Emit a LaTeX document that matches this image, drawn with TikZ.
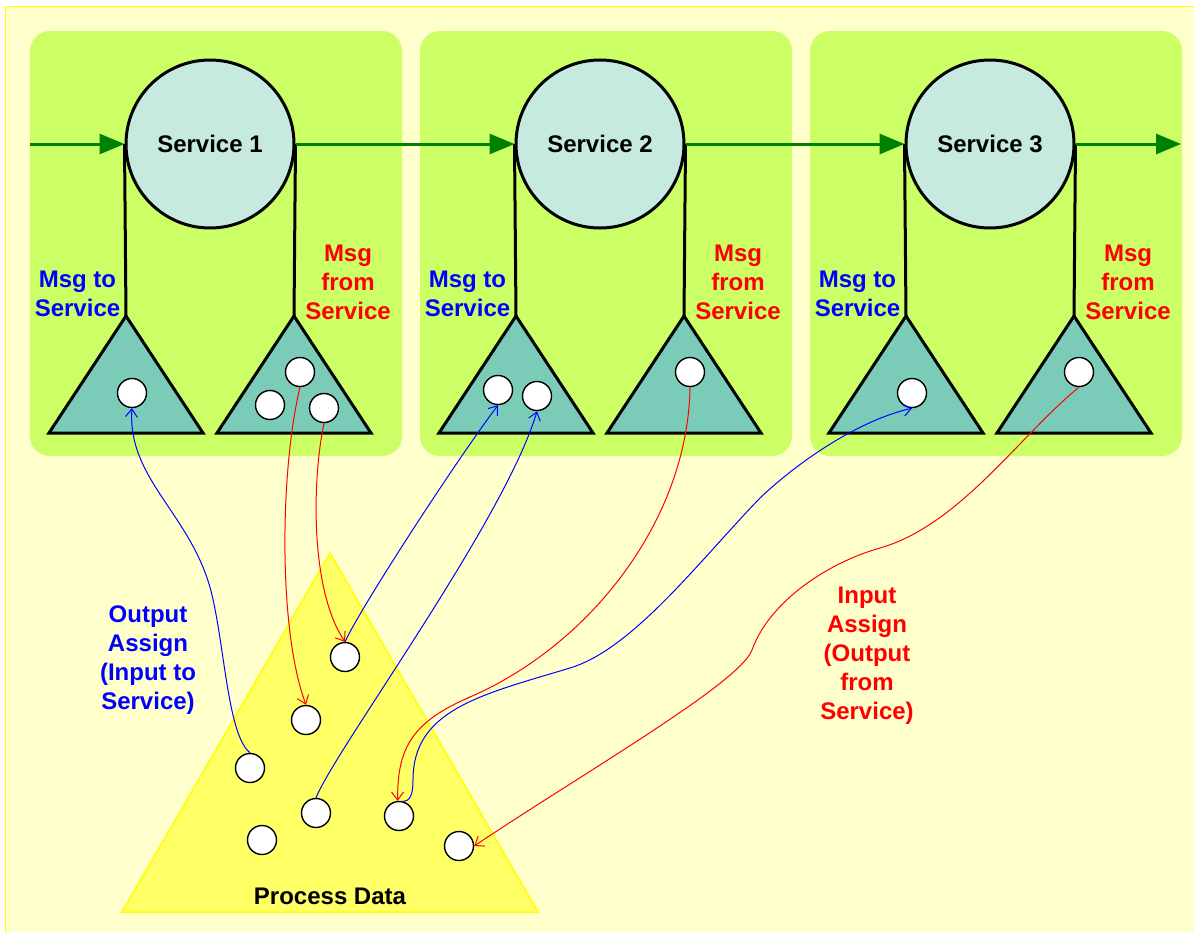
\documentclass[tikz,border=0pt]{standalone}
\usepackage{fontspec}
\setmainfont{Liberation Sans}
\usetikzlibrary{arrows.meta}
\definecolor{bgy}{HTML}{FFFFCC}
\definecolor{bord}{HTML}{FFFF00}
\definecolor{boxg}{HTML}{CCFF66}
\definecolor{svc}{HTML}{C6EAE0}
\definecolor{tri}{HTML}{7ACCB8}
\definecolor{pdy}{HTML}{FFFF66}
\definecolor{flow}{HTML}{008000}
\begin{document}
\begin{tikzpicture}[x=0.5pt,y=-0.5pt,
  svcnode/.style={circle, draw=black, line width=1.5pt, fill=svc, minimum size=84pt, inner sep=0pt, font=\bfseries\fontsize{12}{14.5}\selectfont},
  dot/.style={circle, draw=black, line width=0.7pt, fill=white, minimum size=14.5pt, inner sep=0pt},
  grp/.style={fill=boxg, rounded corners=10pt},
  msgtri/.style={draw=black, line width=1.5pt, fill=tri, line join=miter},
  stem/.style={draw=black, line width=1.5pt},
  lbl/.style={align=center, font=\bfseries\fontsize{12}{14.5}\selectfont},
  flowline/.style={draw=flow, line width=1.5pt},
  flowarrow/.style={flowline, -{Triangle[length=12.5pt,width=10pt]}},
  outa/.style={draw=blue, line width=0.5pt, -{Straight Barb[length=4pt,width=6pt]}},
  ina/.style={draw=red, line width=0.5pt, -{Straight Barb[length=4pt,width=6pt]}},
]
\useasboundingbox (0,0) rectangle (1194,932);
\fill[white] (0,0) rectangle (1194,932);
\fill[bgy] (5,6) rectangle (1194,932);
\draw[bord, line width=0.75pt] (5.5,932) -- (5.5,6.5) -- (1194,6.5);

% service groups
\foreach \i/\dx in {1/0,2/390,3/780} {
  \fill[grp] (30+\dx,31) rectangle (402+\dx,456);
  \coordinate (t\i a) at (126+\dx,316);
  \coordinate (t\i b) at (294+\dx,316);
  \node[svcnode] (s\i) at (210+\dx,144) {\raisebox{-1.5pt}{Service \i}};
  \draw[stem] (s\i.west) -- (t\i a);
  \draw[stem] (s\i.east) -- (t\i b);
  \draw[msgtri] (t\i a) -- (203+\dx,433) -- (49+\dx,433) -- cycle;
  \draw[msgtri] (t\i b) -- (371+\dx,433) -- (217+\dx,433) -- cycle;
  \node[lbl, text=blue] (mt\i) at (77.5+\dx,293.5) {Msg to\\Service};
  \node[lbl, text=red] (mf\i) at (348+\dx,282) {Msg\\from\\Service};
}

% flow
\coordinate (in) at (30,144);
\coordinate (out) at (1181,144);
\draw[flowarrow] (in) -- (s1.west);
\draw[flowarrow] (s1.east) -- (s2.west);
\draw[flowarrow] (s2.east) -- (s3.west);
\draw[flowarrow] (s3.east) -- (out);

% message dots
\node[dot] (s1a) at (132,393) {};
\node[dot] (s1b) at (300,372) {};
\node[dot] (s1c) at (270,405) {};
\node[dot] (s1d) at (324,408) {};
\node[dot] (s2a) at (498,390) {};
\node[dot] (s2b) at (537,396) {};
\node[dot] (s2c) at (690,372) {};
\node[dot] (s3a) at (912,393) {};
\node[dot] (s3b) at (1079,372) {};

% process data
\filldraw[fill=pdy, draw=bord, line width=0.75pt] (330,553) -- (538,912) -- (122,912) -- cycle;
\node[lbl] (pd) at (330,896) {Process Data};
\node[dot] (p1) at (345,657) {};
\node[dot] (p2) at (306,720) {};
\node[dot] (p3) at (250,768) {};
\node[dot] (p4) at (316,813) {};
\node[dot] (p5) at (262,840) {};
\node[dot] (p6) at (399,816) {};
\node[dot] (p7) at (459,846) {};

% assignments
\draw[outa] (p3.north) .. controls (228,735) and (225,650) .. (212,595) .. controls (193,515) and (127,480) .. (s1a.south);
\draw[ina] (s1b.south) .. controls (280,470) and (278,630) .. (p2.north);
\draw[ina] (s1d.south) .. controls (312,480) and (310,590) .. (p1.north);
\draw[outa] (p1.north) .. controls (362,605) and (460,455) .. (s2a.south);
\draw[outa] (p4.north) .. controls (335,750) and (505,520) .. (s2b.south);
\draw[ina] (s2c.south) .. controls (688,520) and (590,645) .. (470,697) .. controls (415,721) and (397,745) .. (p6.95);
\draw[outa] (p6.75) .. controls (410,801) and (413,795) .. (413,780) .. controls (413,710) and (480,695) .. (570,668) .. controls (633,649) and (700,560) .. (760,498) .. controls (800,460) and (860,420) .. (s3a.south);
\draw[ina] (s3b.south) .. controls (1020,435) and (960,525) .. (880,548) .. controls (830,562) and (770,600) .. (752,650) .. controls (740,683) and (580,775) .. (p7.east);

% labels
\node[lbl, text=blue] (oa) at (148,660) {Output\\Assign\\(Input to\\Service)};
\node[lbl, text=red] (ia) at (867,656) {Input\\Assign\\(Output\\from\\Service)};
\end{tikzpicture}
\end{document}
